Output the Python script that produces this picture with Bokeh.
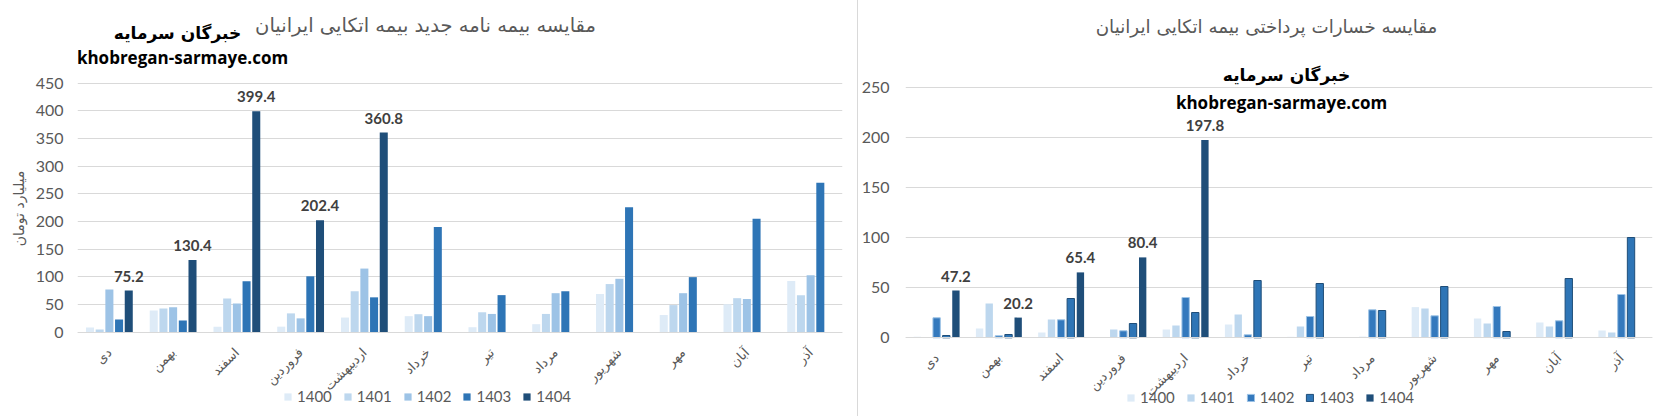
import math
from bokeh.plotting import figure
from bokeh.models import (FactorRange, Range1d, FixedTicker, ColumnDataSource, Label,
                          Legend, LegendItem)
from bokeh.transform import dodge
from bokeh.layouts import row
from bokeh.core.properties import value
from bokeh.embed import file_html
from bokeh.resources import INLINE

NAN = float("nan")

months = ["دی", "بهمن", "اسفند", "فروردین", "اردیبهشت", "خرداد",
          "تیر", "مرداد", "شهریور", "مهر", "آبان", "آذر"]
years = ["1400", "1401", "1402", "1403", "1404"]

# Left chart: new policies (billion toman)
new_1400 = [8.5, 39, 10, 10, 26.5, 29, 9, 14.5, 69, 31, 50.5, 92.5]
new_1401 = [4.8, 43, 61, 34, 74, 32.5, 36, 33, 87, 49, 61.5, 67]
new_1402 = [77, 45, 52, 25, 115, 29, 33, 70.5, 96.5, 70.5, 60, 103]
new_1403 = [23, 21, 92, 101, 63, 190, 67, 74, 226, 99.5, 205, 270]
new_1404 = [75.2, 130.4, 399.4, 202.4, 360.8, NAN, NAN, NAN, NAN, NAN, NAN, NAN]
new_ticks = [0, 50, 100, 150, 200, 250, 300, 350, 400, 450]

# Right chart: paid claims
clm_1400 = [1, 9.3, 5.3, 0, 8.3, 13.3, 1, 0, 30.7, 19.3, 15.3, 7.3]
clm_1401 = [0, 34.3, 18.3, 8.3, 12.3, 23.3, 11.3, 1, 29.3, 14.3, 11.3, 5.3]
clm_1402 = [20, 2, 18, 7, 40.3, 3, 21.3, 28, 22, 31.3, 17, 43.3]
clm_1403 = [2.3, 3.3, 39.3, 14.3, 25.3, 57.3, 54.3, 27.3, 51.3, 6.3, 59.3, 100.3]
clm_1404 = [47.2, 20.2, 65.4, 80.4, 197.8, NAN, NAN, NAN, NAN, NAN, NAN, NAN]
clm_ticks = [0, 50, 100, 150, 200, 250]

title_left = "مقایسه بیمه نامه جدید بیمه اتکایی ایرانیان"
title_right = "مقایسه خسارات پرداختی بیمه اتکایی ایرانیان"
brand_fa = "خبرگان سرمایه"
brand_en = "khobregan-sarmaye.com"
y_label_left = "میلیارد تومان"

colors_left = ["#deebf7", "#bdd7ee", "#9dc3e6", "#2e75b6", "#1f4e79"]
colors_right = ["#deebf7", "#bdd7ee", "#3479bd", "#2e75b6", "#1f4e79"]
borders_right = [None, None, "#9dc3e6", "#1f4e79", None]

GREY = "#595959"
FA_FONT = "DejaVu Sans"
NUM_FONT = "Lato"
H = 416  # figure height in px


def make_chart(series, ymin, ymax, ticks, colors, borders, fw, bl, br,
               bar_w, step, std_y, title, title_size, title_xy, fa_xy, en_xy,
               legend_xy, ylabel=None):
    data = {"month": months}
    for y, s in zip(years, series):
        data["v" + y] = s
    src = ColumnDataSource(data)

    p = figure(x_range=FactorRange(*months), y_range=Range1d(ymin, ymax),
               frame_width=fw, frame_height=H, title=None,
               min_border_left=bl, min_border_right=br,
               min_border_top=0, min_border_bottom=0,
               output_backend="svg", toolbar_location=None)
    p.outline_line_color = None
    p.background_fill_color = "white"
    p.border_fill_color = "white"
    p.xgrid.grid_line_color = None
    p.ygrid.grid_line_color = "#d9d9d9"
    p.ygrid.grid_line_width = 1

    offsets = [-2 * step, -step, 0, step, 2 * step]
    items = []
    for y, off, c, lc in zip(years, offsets, colors, borders):
        r = p.vbar(x=dodge("month", off, range=p.x_range), top="v" + y, bottom=0,
                   width=bar_w, source=src, fill_color=c, line_color=lc,
                   line_width=1 if lc else 0)
        items.append(LegendItem(label=y, renderers=[r]))

    # data labels for 1404
    vals = series[4]
    lab = ColumnDataSource({
        "month": [m for m, v in zip(months, vals) if not math.isnan(v)],
        "v": [v for v in vals if not math.isnan(v)],
        "t": [f"{v:.1f}" for v in vals if not math.isnan(v)],
    })
    p.text(x=dodge("month", 2 * step, range=p.x_range), y="v", text="t", source=lab,
           text_align="center", text_baseline="bottom", y_offset=-9,
           text_font=value(NUM_FONT), text_font_style="bold",
           text_font_size="15px", text_color="#404040")

    ya = p.yaxis[0]
    ya.ticker = FixedTicker(ticks=ticks)
    ya.axis_line_color = None
    ya.major_tick_line_color = None
    ya.minor_tick_line_color = None
    ya.major_tick_out = 0
    ya.major_tick_in = 0
    ya.major_label_standoff = std_y
    ya.major_label_text_color = GREY
    ya.major_label_text_font = NUM_FONT
    ya.major_label_text_font_size = "16px"
    if ylabel:
        ya.axis_label = ylabel
        ya.axis_label_text_font = FA_FONT
        ya.axis_label_text_font_style = "normal"
        ya.axis_label_text_font_size = "14px"
        ya.axis_label_text_color = GREY
        ya.axis_label_standoff = 6

    xa = p.xaxis[0]
    xa.fixed_location = 0
    xa.axis_line_color = "#d9d9d9"
    xa.major_tick_line_color = None
    xa.minor_tick_line_color = None
    xa.major_tick_out = 0
    xa.major_tick_in = 0
    xa.major_label_standoff = 18
    xa.major_label_orientation = math.pi / 4
    xa.major_label_text_color = GREY
    xa.major_label_text_font = FA_FONT
    xa.major_label_text_font_size = "13px"

    p.add_layout(Label(x=title_xy[0], y=title_xy[1], x_units="screen", y_units="screen",
                       text=title, text_align="center", text_baseline="middle",
                       text_font=FA_FONT, text_font_size=title_size, text_color=GREY))
    p.add_layout(Label(x=fa_xy[0], y=fa_xy[1], x_units="screen", y_units="screen",
                       text=brand_fa, text_align="center", text_baseline="middle",
                       text_font=FA_FONT, text_font_style="bold",
                       text_font_size="17px", text_color="black"))
    p.add_layout(Label(x=en_xy[0], y=en_xy[1], x_units="screen", y_units="screen",
                       text=brand_en, text_align="center", text_baseline="middle",
                       text_font="Open Sans", text_font_style="bold",
                       text_font_size="17px", text_color="black"))

    lg = Legend(items=items, location=legend_xy, orientation="horizontal",
                border_line_color=None, background_fill_alpha=0, padding=0,
                margin=0, spacing=11, glyph_width=9, glyph_height=9,
                label_standoff=5, label_height=18, label_text_font=NUM_FONT,
                label_text_font_size="15px", label_text_color=GREY)
    p.add_layout(lg, "center")
    return p


# left: zero line at y 331.7, 450 units over 249 px
k_left = 249 / 450
left = make_chart([new_1400, new_1401, new_1402, new_1403, new_1404],
                  -(H - 331.7) / k_left, 331.7 / k_left,
                  new_ticks, colors_left, [None] * 5,
                  fw=765, bl=77, br=15,
                  bar_w=0.126, step=0.152, std_y=14,
                  title=title_left, title_size="19.5px", title_xy=(348, H - 25),
                  fa_xy=(100, H - 32), en_xy=(105, H - 57), legend_xy=(206, H - 405),
                  ylabel=y_label_left)

# right: zero line at y 337.3, 250 units over 250 px
right = make_chart([clm_1400, clm_1401, clm_1402, clm_1403, clm_1404],
                   -(H - 337.3), 337.3,
                   clm_ticks, colors_right, borders_right,
                   fw=746, bl=43, br=15,
                   bar_w=0.118, step=0.155, std_y=16,
                   title=title_right, title_size="18.3px", title_xy=(361, H - 26),
                   fa_xy=(381, H - 74), en_xy=(376, H - 102), legend_xy=(221, H - 406))
right.styles = {"border-left": "1px solid #d9d9d9"}

layout = row(left, right)
open("out.html", "w").write(file_html(layout, INLINE))
